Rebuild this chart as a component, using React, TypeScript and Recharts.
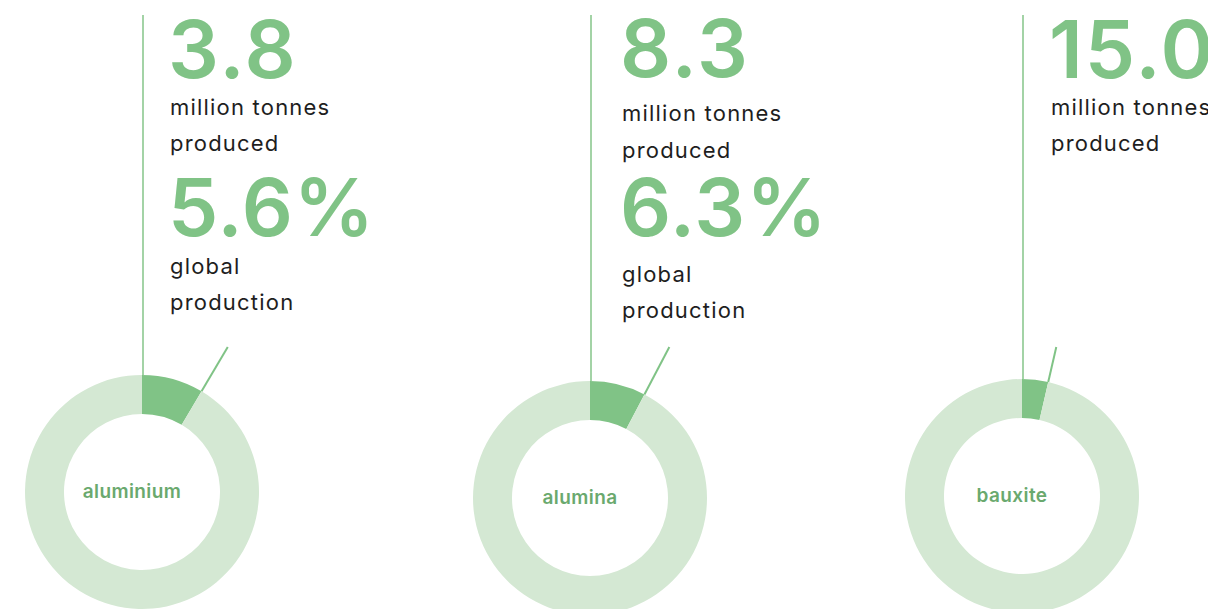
import React from "react";
import { Cell, Pie, PieChart } from "recharts";

// values
const materials = ["aluminium", "alumina", "bauxite"];
const producedMt = [3.8, 8.3, 15.0];
const globalSharePct: (number | null)[] = [5.6, 6.3, null];
// share of the ring drawn dark
const ringSharePct = [8.5, 7.7, 3.6];

const WIDTH = 1208;
const HEIGHT = 609;

const GREEN = "#80c386";
const RING = "#d4e8d3";
const LINE = "#a3d3a6";
const LABEL = "#6aa96e";
const TEXT = "#1e1e1e";
const FONT = "Inter, 'Noto Sans', sans-serif";

const OUTER = 117;
const INNER = 78;

// layout per column
const donutPos = [
  { cx: 142, cy: 492 },
  { cx: 590, cy: 498 },
  { cx: 1022, cy: 496 }
];
const textPos = [
  { x: 170, num: 78, l1: 115, l2: 151, pct: 236, g1: 274, g2: 310 },
  { x: 622, num: 77, l1: 121, l2: 158, pct: 236, g1: 282, g2: 318 },
  { x: 1051, num: 78, l1: 115, l2: 151, pct: 0, g1: 0, g2: 0 }
];

const RAD = Math.PI / 180;

function makeLabel(i: number) {
  return (props: any) => {
    if (props.index !== 0) return null;
    const { cx, cy } = donutPos[i];
    const endDeg = 90 - (ringSharePct[i] / 100) * 360;
    const cos = Math.cos(endDeg * RAD);
    const sin = Math.sin(endDeg * RAD);
    const x1 = cx + OUTER * cos;
    const y1 = cy - OUTER * sin;
    const yEnd = 347;
    const t = (cy - yEnd) / sin;
    const x2 = cx + t * cos;
    return (
      <g>
        <line x1={cx + 1} y1={cy - OUTER} x2={cx + 1} y2={15} stroke={LINE} strokeWidth={2} />
        <line x1={x1} y1={y1} x2={x2} y2={yEnd} stroke={GREEN} strokeWidth={2} />
        <text
          x={cx - 10}
          y={cy + 6}
          textAnchor="middle"
          fill={LABEL}
          fontFamily={FONT}
          fontSize={19}
          fontWeight={600}
          letterSpacing={0.4}
        >
          {materials[i]}
        </text>
      </g>
    );
  };
}

export default function App() {
  return (
    <div style={{ position: "absolute", left: 0, top: 0, width: WIDTH, height: HEIGHT, background: "#fff", overflow: "hidden" }}>
      <PieChart width={WIDTH} height={HEIGHT} margin={{ top: 0, right: 0, bottom: 0, left: 0 }}>
        {materials.map((m, i) => (
          <Pie
            key={m}
            data={[
              { name: m, value: ringSharePct[i] },
              { name: "rest", value: 100 - ringSharePct[i] }
            ]}
            dataKey="value"
            cx={donutPos[i].cx}
            cy={donutPos[i].cy}
            innerRadius={INNER}
            outerRadius={OUTER}
            startAngle={90}
            endAngle={-270}
            stroke="none"
            isAnimationActive={false}
            labelLine={false}
            label={makeLabel(i)}
          >
            <Cell fill={GREEN} />
            <Cell fill={RING} />
          </Pie>
        ))}
      </PieChart>
      <svg width={WIDTH} height={HEIGHT} style={{ position: "absolute", left: 0, top: 0, pointerEvents: "none" }}>
        {materials.map((m, i) => {
          const p = textPos[i];
          const share = globalSharePct[i];
          return (
            <g key={m} fontFamily={FONT}>
              <text x={p.x - 2} y={p.num} fill={GREEN} fontSize={80} fontWeight={600} letterSpacing={2}>
                {producedMt[i].toFixed(1)}
              </text>
              <text x={p.x} y={p.l1} fill={TEXT} fontSize={22} fontWeight={400} letterSpacing={1.2}>million tonnes</text>
              <text x={p.x} y={p.l2} fill={TEXT} fontSize={22} fontWeight={400} letterSpacing={1.2}>produced</text>
              {share !== null && (
                <>
                  <text x={p.x - 2} y={p.pct} fill={GREEN} fontSize={80} fontWeight={600} letterSpacing={1}>
                    {share.toFixed(1)}%
                  </text>
                  <text x={p.x} y={p.g1} fill={TEXT} fontSize={22} fontWeight={400} letterSpacing={1.2}>global</text>
                  <text x={p.x} y={p.g2} fill={TEXT} fontSize={22} fontWeight={400} letterSpacing={1.2}>production</text>
                </>
              )}
            </g>
          );
        })}
      </svg>
    </div>
  );
}
